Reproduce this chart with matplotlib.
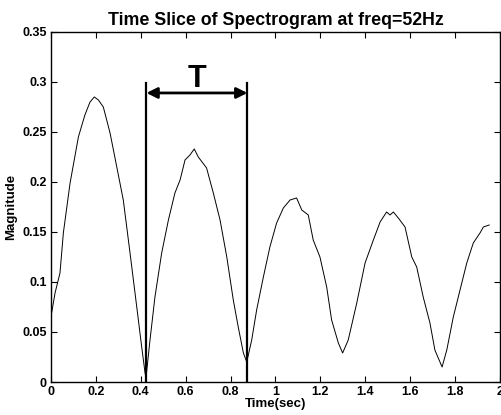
import matplotlib
matplotlib.use("Agg")
import matplotlib.pyplot as plt

# magnitude of the 52 Hz bin over time
t = [0.0, 0.002, 0.018, 0.04, 0.055, 0.085, 0.122, 0.151, 0.174, 0.193, 0.211,
     0.233, 0.263, 0.293, 0.322, 0.352, 0.382, 0.404, 0.419, 0.423,
     0.441, 0.463, 0.493, 0.523, 0.552, 0.575, 0.597, 0.619, 0.638, 0.656,
     0.693, 0.723, 0.753, 0.783, 0.812, 0.834, 0.857, 0.872,
     0.894, 0.916, 0.946, 0.975, 1.005, 1.035, 1.065, 1.094, 1.117, 1.146,
     1.168, 1.198, 1.228, 1.250, 1.280, 1.299, 1.324, 1.362, 1.399, 1.436,
     1.466, 1.495, 1.510, 1.525, 1.547, 1.577, 1.607, 1.629, 1.658, 1.688,
     1.710, 1.742, 1.763, 1.792, 1.822, 1.852, 1.881, 1.911, 1.926, 1.952]
mag = [0.055, 0.068, 0.089, 0.109, 0.149, 0.199, 0.245, 0.267, 0.280, 0.285, 0.282,
       0.275, 0.249, 0.215, 0.182, 0.129, 0.075, 0.035, 0.009, 0.004,
       0.042, 0.085, 0.129, 0.162, 0.189, 0.202, 0.222, 0.227, 0.233, 0.225,
       0.214, 0.189, 0.162, 0.125, 0.082, 0.055, 0.029, 0.020,
       0.042, 0.072, 0.105, 0.135, 0.159, 0.174, 0.182, 0.184, 0.172, 0.167,
       0.142, 0.125, 0.095, 0.062, 0.039, 0.029, 0.042, 0.079, 0.119, 0.142,
       0.160, 0.170, 0.167, 0.170, 0.164, 0.155, 0.125, 0.115, 0.085, 0.059,
       0.032, 0.015, 0.032, 0.065, 0.092, 0.119, 0.139, 0.149, 0.155, 0.157]

# period marker: two minima and the label height
period_start = 0.425
period_end = 0.875
marker_top = 0.299
arrow_y = 0.289
period_label = "T"

xticks = [0, 0.2, 0.4, 0.6, 0.8, 1, 1.2, 1.4, 1.6, 1.8, 2]
yticks = [0, 0.05, 0.1, 0.15, 0.2, 0.25, 0.3, 0.35]

plt.rcParams["font.family"] = ["Liberation Sans", "DejaVu Sans"]
plt.rcParams["font.weight"] = "bold"

fig = plt.figure(figsize=(5.02, 4.15), dpi=100)
ax = fig.add_axes([0.1016, 0.0795, 0.8944, 0.8435])

ax.plot(t, mag, color="black", lw=0.7)

for xv in (period_start, period_end):
    ax.plot([xv, xv], [0, marker_top], color="black", lw=1.6)
ax.annotate("", xy=(period_start, arrow_y), xytext=(period_end, arrow_y),
            arrowprops=dict(arrowstyle="<|-|>", color="black", lw=2,
                            mutation_scale=16, shrinkA=0, shrinkB=0))
ax.text((period_start + period_end) / 2, arrow_y + 0.006, period_label,
        ha="center", va="baseline", fontsize=22, fontweight="bold")

ax.set_xlim(0, 2)
ax.set_ylim(0, 0.35)
ax.set_xticks(xticks)
ax.set_yticks(yticks)
ax.set_xticklabels([f"{v:g}" for v in xticks])
ax.set_yticklabels([f"{v:g}" for v in yticks])
ax.tick_params(direction="in", top=True, right=True, labelsize=9, length=4, pad=3)
for s in ax.spines.values():
    s.set_linewidth(1.0)

ax.set_title("Time Slice of Spectrogram at freq=52Hz", fontsize=12.8,
             fontweight="bold", pad=5)
ax.set_xlabel("Time(sec)", fontsize=9.5, fontweight="bold", labelpad=0)
ax.set_ylabel("Magnitude", fontsize=9.5, fontweight="bold", labelpad=4)

fig.savefig("out.png", dpi=100)
